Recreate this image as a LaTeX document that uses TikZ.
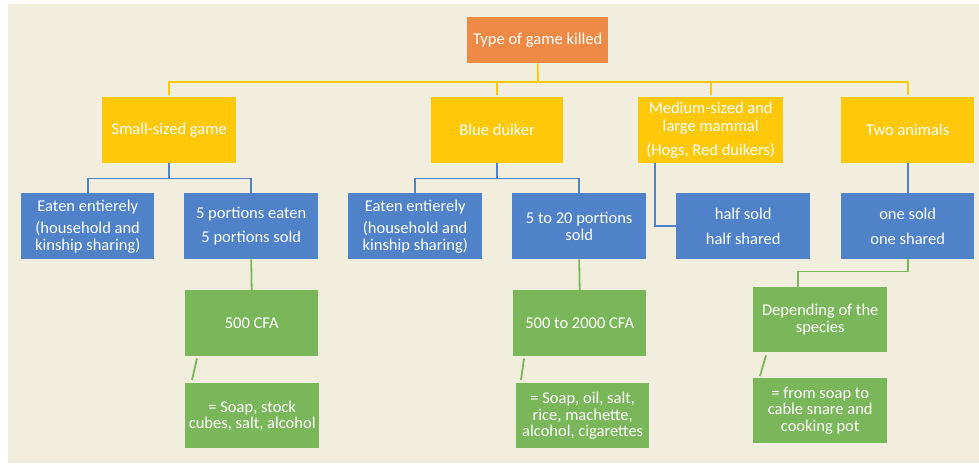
\documentclass[tikz,border=0pt]{standalone}
\usepackage{fontspec}
\setmainfont{Carlito}
\definecolor{bg}{HTML}{F2EEDE}
\definecolor{orng}{HTML}{EE8A45}
\definecolor{ylw}{HTML}{FFC90A}
\definecolor{blu}{HTML}{4F82C8}
\definecolor{grn}{HTML}{7AB65A}
\begin{document}
\begin{tikzpicture}[x=1pt,y=-1pt,
  box/.style={anchor=north west,inner sep=0pt,text=white,align=center,font=\fontsize{16.5}{17.5}\selectfont},
  ylink/.style={draw=ylw,line width=1.8pt},
  blink/.style={draw=blu,line width=1.8pt},
  glink/.style={draw=grn,line width=1.8pt}]
\useasboundingbox (0,0) rectangle (979,463);
\fill[white] (0,0) rectangle (979,463);
\fill[bg] (8,4) rectangle (979,463);
% top
\node[box,fill=orng,minimum width=141pt,minimum height=46pt] (top) at (467,17) {Type of game killed};
% level 1
\node[box,fill=ylw,minimum width=134pt,minimum height=66pt] (small) at (102,97) {Small-sized game};
\node[box,fill=ylw,minimum width=132pt,minimum height=66pt] (blue) at (431,97) {Blue duiker};
\node[box,fill=ylw,minimum width=145pt,minimum height=66pt] (med) at (638,97) {Medium-sized and\\large mammal\\[7pt](Hogs, Red duikers)};
\node[box,fill=ylw,minimum width=133pt,minimum height=66pt] (two) at (841,97) {Two animals};
% level 2
\node[box,fill=blu,minimum width=133pt,minimum height=66pt] (eat1) at (21,193) {Eaten entierely\\[5pt](household and\\[-1pt]kinship sharing)};
\node[box,fill=blu,minimum width=134pt,minimum height=66pt] (five) at (184,193) {5 portions eaten\\[7pt]5 portions sold};
\node[box,fill=blu,minimum width=134pt,minimum height=66pt] (eat2) at (348,193) {Eaten entierely\\[5pt](household and\\[-1pt]kinship sharing)};
\node[box,fill=blu,minimum width=134pt,minimum height=66pt] (twenty) at (512,193) {5 to 20 portions\\[-1pt]sold};
\node[box,fill=blu,minimum width=134pt,minimum height=66pt] (half) at (676,193) {half sold\\[7pt]half shared};
\node[box,fill=blu,minimum width=133pt,minimum height=66pt] (one) at (841,193) {one sold\\[7pt]one shared};
% level 3
\node[box,fill=grn,minimum width=133pt,minimum height=66pt] (cfa1) at (185,290) {500 CFA};
\node[box,fill=grn,minimum width=133pt,minimum height=66pt] (cfa2) at (513,290) {500 to 2000 CFA};
\node[box,fill=grn,minimum width=134pt,minimum height=65pt] (dep) at (753,287) {Depending of the\\[-1pt]species};
% level 4
\node[box,fill=grn,minimum width=134pt,minimum height=65pt] (g1) at (185,383) {= Soap, stock\\[-1pt]cubes, salt, alcohol};
\node[box,fill=grn,minimum width=133pt,minimum height=65pt] (g2) at (516,383) {= Soap, oil, salt,\\[-1pt]rice, machette,\\[-1pt]alcohol, cigarettes};
\node[box,fill=grn,minimum width=134pt,minimum height=65pt] (g3) at (753,378) {= from soap to\\[-1pt]cable snare and\\[-1pt]cooking pot};
% yellow connectors
\coordinate (ybar) at (538,82);
\draw[ylink] (top.south) -- (ybar);
\draw[ylink] ([yshift=2pt]small.north) |- (ybar) -| ([yshift=2pt]two.north);
\draw[ylink] ([yshift=2pt]blue.north) -- (blue.north |- ybar);
\draw[ylink] ([yshift=2pt]med.north) -- (med.north |- ybar);
% blue connectors
\draw[blink] (small.south) -- ++(0,15) coordinate (b1);
\draw[blink] (eat1.north) |- (b1) -| (five.north);
\draw[blink] (blue.south) -- ++(0,15) coordinate (b2);
\draw[blink] (eat2.north) |- (b2) -| (twenty.north);
\draw[blink] ([xshift=17pt]med.south west) |- (half.west);
\draw[blink] (two.south) -- (one.north);
% green connectors
\draw[glink] (five.south) -- (cfa1.north);
\draw[glink] (twenty.south) -- (cfa2.north);
\draw[glink] (one.south) -- ++(0,12) -| ([xshift=-22pt]dep.north);
\draw[glink] ([xshift=12pt,yshift=-2pt]cfa1.south west) -- ([xshift=7pt,yshift=3pt]g1.north west);
\draw[glink] ([xshift=11pt,yshift=-2pt]cfa2.south west) -- ([xshift=5pt,yshift=3pt]g2.north west);
\draw[glink] ([xshift=13pt,yshift=-3pt]dep.south west) -- ([xshift=7pt,yshift=2pt]g3.north west);
\end{tikzpicture}
\end{document}
